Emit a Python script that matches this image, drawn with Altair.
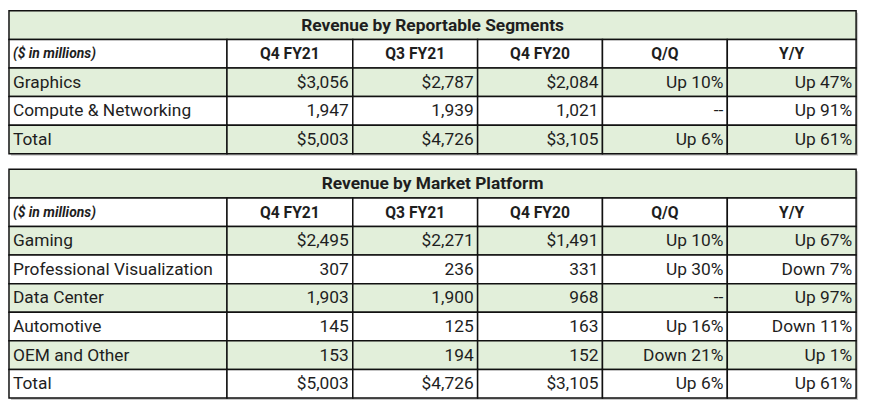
import altair as alt
import pandas as pd

# ---------------- data ----------------
col_headers = ["($ in millions)", "Q4 FY21", "Q3 FY21", "Q4 FY20", "Q/Q", "Y/Y"]

seg_title = "Revenue by Reportable Segments"
seg_labels = ["Graphics", "Compute & Networking", "Total"]
seg_q4fy21 = ["$3,056", "1,947", "$5,003"]
seg_q3fy21 = ["$2,787", "1,939", "$4,726"]
seg_q4fy20 = ["$2,084", "1,021", "$3,105"]
seg_qq = ["Up 10%", "--", "Up 6%"]
seg_yy = ["Up 47%", "Up 91%", "Up 61%"]

mkt_title = "Revenue by Market Platform"
mkt_labels = ["Gaming", "Professional Visualization", "Data Center", "Automotive", "OEM and Other", "Total"]
mkt_q4fy21 = ["$2,495", "307", "1,903", "145", "153", "$5,003"]
mkt_q3fy21 = ["$2,271", "236", "1,900", "125", "194", "$4,726"]
mkt_q4fy20 = ["$1,491", "331", "968", "163", "152", "$3,105"]
mkt_qq = ["Up 10%", "Up 30%", "--", "Up 16%", "Down 21%", "Up 6%"]
mkt_yy = ["Up 67%", "Down 7%", "Up 97%", "Down 11%", "Up 1%", "Up 61%"]

# ---------------- layout ----------------
COL_EDGES = [9, 229, 356, 482, 608, 734, 864]
TABLE_TOPS = [9, 169]
ROW_H = 28.85
GREEN = "#E2EFDA"
WHITE = "#FFFFFF"

tables = [
    (seg_title, seg_labels, [seg_q4fy21, seg_q3fy21, seg_q4fy20, seg_qq, seg_yy]),
    (mkt_title, mkt_labels, [mkt_q4fy21, mkt_q3fy21, mkt_q4fy20, mkt_qq, mkt_yy]),
]

records = []
shadows = []
for t, (title, labels, series) in enumerate(tables):
    top = TABLE_TOPS[t]
    nrows = len(labels) + 2
    shadows.append(dict(x=COL_EDGES[0] + 2, x2=COL_EDGES[-1] + 2, y=top + 2, y2=top + nrows * ROW_H + 2))
    # title row
    y, y2 = top, top + ROW_H
    records.append(dict(x=COL_EDGES[0], x2=COL_EDGES[-1], y=y, y2=y2, fill=GREEN,
                        text=title, tx=(COL_EDGES[0] + COL_EDGES[-1]) / 2, ty=(y + y2) / 2 + 0.5, style="title"))
    # header row
    y, y2 = top + ROW_H, top + 2 * ROW_H
    for c, h in enumerate(col_headers):
        xa, xb = COL_EDGES[c], COL_EDGES[c + 1]
        if c == 0:
            records.append(dict(x=xa, x2=xb, y=y, y2=y2, fill=WHITE, text=h, tx=xa + 4,
                                ty=(y + y2) / 2 + 0.5, style="unit"))
        else:
            records.append(dict(x=xa, x2=xb, y=y, y2=y2, fill=WHITE, text=h, tx=(xa + xb) / 2,
                                ty=(y + y2) / 2 + 0.5, style="head"))
    # data rows
    for r, lab in enumerate(labels):
        y, y2 = top + (r + 2) * ROW_H, top + (r + 3) * ROW_H
        fill = GREEN if r % 2 == 0 else WHITE
        vals = [lab] + [s[r] for s in series]
        for c, v in enumerate(vals):
            xa, xb = COL_EDGES[c], COL_EDGES[c + 1]
            if c == 0:
                records.append(dict(x=xa, x2=xb, y=y, y2=y2, fill=fill, text=v, tx=xa + 4,
                                    ty=(y + y2) / 2 + 0.5, style="label"))
            else:
                records.append(dict(x=xa, x2=xb, y=y, y2=y2, fill=fill, text=v, tx=xb - 4,
                                    ty=(y + y2) / 2 + 0.5, style="value"))

df = pd.DataFrame(records)
sdf = pd.DataFrame(shadows)

xs = alt.Scale(domain=[8, 874], range=[0, 866], nice=False, zero=False)
ys = alt.Scale(domain=[8, 401], range=[0, 393], nice=False, zero=False)

shadow = alt.Chart(sdf).mark_rect(color="#c8c8c8").encode(
    x=alt.X("x:Q", scale=xs, axis=None),
    x2="x2:Q",
    y=alt.Y("y:Q", scale=ys, axis=None),
    y2="y2:Q",
)

base = alt.Chart(df)

rects = base.mark_rect(stroke="#111111", strokeWidth=1.5).encode(
    x=alt.X("x:Q", scale=xs, axis=None),
    x2="x2:Q",
    y=alt.Y("y:Q", scale=ys, axis=None),
    y2="y2:Q",
    color=alt.Color("fill:N", scale=None),
)

FONT = "Roboto"
TXT = "#1e1e1e"


def text_layer(style, align, size, weight="normal", italic=False):
    kw = dict(align=align, baseline="middle", font=FONT, fontSize=size,
              fontWeight=weight, color=TXT)
    if italic:
        kw["fontStyle"] = "italic"
    return base.transform_filter(alt.datum.style == style).mark_text(**kw).encode(
        x=alt.X("tx:Q", scale=xs, axis=None),
        y=alt.Y("ty:Q", scale=ys, axis=None),
        text="text:N",
    )


chart = alt.layer(
    shadow,
    rects,
    text_layer("title", "center", 17.5, "bold"),
    text_layer("head", "center", 15.8, "bold"),
    text_layer("unit", "left", 14, "bold", italic=True),
    text_layer("label", "left", 17.5),
    text_layer("value", "right", 17.5),
).properties(
    width=866, height=393, padding=0, autosize=alt.AutoSizeParams(type="none")
).configure_view(stroke=None)

chart.save("out.html", embed_options={"renderer": "svg", "actions": False})
